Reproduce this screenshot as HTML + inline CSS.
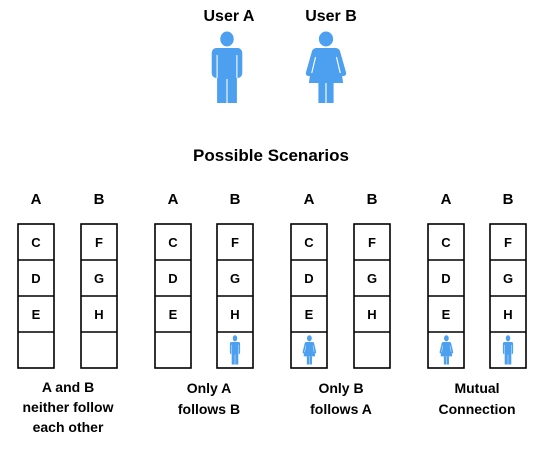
<!DOCTYPE html>
<html><head><style>
html,body{margin:0;padding:0;background:#fff;}
svg{display:block;}
text{font-family:"Liberation Sans",sans-serif;font-weight:bold;fill:#000;text-anchor:middle;}
</style></head><body>
<svg width="542" height="450" viewBox="0 0 542 450" xmlns="http://www.w3.org/2000/svg">
<defs>
<g id="man">
<circle cx="20" cy="8" r="7.5" fill="#4d9ff0"/>
<rect x="3" y="17" width="34" height="30" rx="5" fill="#4d9ff0"/>
<rect x="9" y="40" width="22" height="32" fill="#4d9ff0"/>
<line x1="9" y1="24" x2="9" y2="47" stroke="#fff" stroke-width="1.2"/>
<line x1="31" y1="24" x2="31" y2="47" stroke="#fff" stroke-width="1.2"/>
<line x1="20" y1="48" x2="20" y2="72" stroke="#fff" stroke-width="1.2"/>
</g>
<g id="woman">
<circle cx="20" cy="8" r="7.5" fill="#4d9ff0"/>
<path d="M10 17 H30 Q34 17 35 21 L41 41 Q42 44 39 45 L37 45 L38 52 H2 L3 45 L1 45 Q-2 44 -1 41 L5 21 Q6 17 10 17 Z" fill="#4d9ff0"/>
<rect x="12" y="52" width="16" height="20" fill="#4d9ff0"/>
<line x1="20" y1="52" x2="20" y2="72" stroke="#fff" stroke-width="1.2"/>
<line x1="9" y1="26" x2="5" y2="42" stroke="#fff" stroke-width="1.2"/>
<line x1="31" y1="26" x2="35" y2="42" stroke="#fff" stroke-width="1.2"/>
</g>
</defs>

<text x="229" y="21" font-size="16">User A</text>
<text x="331" y="21" font-size="16">User B</text>
<use href="#man" transform="translate(209,31) scale(0.9,1)"/>
<use href="#woman" transform="translate(307,31) scale(0.95,1)"/>

<text x="271" y="161" font-size="17">Possible Scenarios</text>

<g font-size="15">
<text x="36" y="204">A</text><text x="99" y="204">B</text>
<text x="173" y="204">A</text><text x="235" y="204">B</text>
<text x="309" y="204">A</text><text x="372" y="204">B</text>
<text x="446" y="204">A</text><text x="508" y="204">B</text>
</g>

<g fill="#fff" stroke="#000" stroke-width="1.6">
<rect x="18" y="224" width="36" height="144"/>
<rect x="81" y="224" width="36" height="144"/>
<rect x="155" y="224" width="36" height="144"/>
<rect x="217" y="224" width="36" height="144"/>
<rect x="291" y="224" width="36" height="144"/>
<rect x="354" y="224" width="36" height="144"/>
<rect x="428" y="224" width="36" height="144"/>
<rect x="490" y="224" width="36" height="144"/>
</g>
<g stroke="#000" stroke-width="1.6">
<path d="M18 260H54M18 296H54M18 332H54 M81 260H117M81 296H117M81 332H117 M155 260H191M155 296H191M155 332H191 M217 260H253M217 296H253M217 332H253 M291 260H327M291 296H327M291 332H327 M354 260H390M354 296H390M354 332H390 M428 260H464M428 296H464M428 332H464 M490 260H526M490 296H526M490 332H526"/>
</g>

<g font-size="13">
<text x="36" y="247">C</text><text x="36" y="283">D</text><text x="36" y="319">E</text>
<text x="99" y="247">F</text><text x="99" y="283">G</text><text x="99" y="319">H</text>
<text x="173" y="247">C</text><text x="173" y="283">D</text><text x="173" y="319">E</text>
<text x="235" y="247">F</text><text x="235" y="283">G</text><text x="235" y="319">H</text>
<text x="309" y="247">C</text><text x="309" y="283">D</text><text x="309" y="319">E</text>
<text x="372" y="247">F</text><text x="372" y="283">G</text><text x="372" y="319">H</text>
<text x="446" y="247">C</text><text x="446" y="283">D</text><text x="446" y="319">E</text>
<text x="508" y="247">F</text><text x="508" y="283">G</text><text x="508" y="319">H</text>
</g>

<use href="#man" transform="translate(229,335) scale(0.3,0.41)"/>
<use href="#woman" transform="translate(303,335) scale(0.32,0.41)"/>
<use href="#woman" transform="translate(440,335) scale(0.32,0.41)"/>
<use href="#man" transform="translate(502,335) scale(0.3,0.41)"/>

<g font-size="14">
<text x="68" y="392">A and B</text>
<text x="68" y="412">neither follow</text>
<text x="68" y="432">each other</text>
<text x="209" y="393">Only A</text>
<text x="209" y="414">follows B</text>
<text x="341" y="393">Only B</text>
<text x="341" y="414">follows A</text>
<text x="477" y="393">Mutual</text>
<text x="477" y="414">Connection</text>
</g>
</svg>
</body></html>
